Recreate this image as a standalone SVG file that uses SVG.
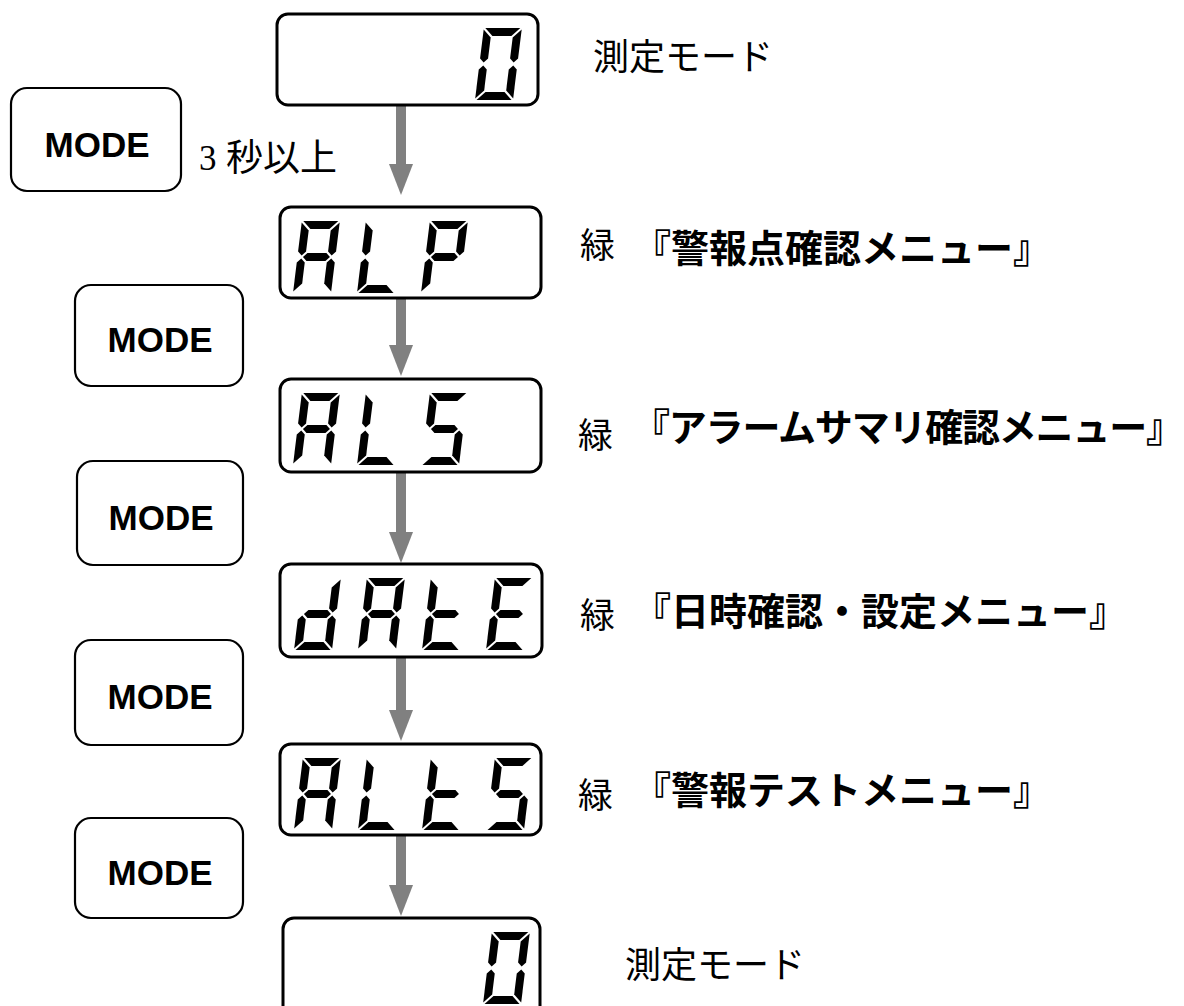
<svg xmlns="http://www.w3.org/2000/svg" xmlns:xlink="http://www.w3.org/1999/xlink" width="1184" height="1006" viewBox="0 0 1184 1006">
<style>
.disp{fill:#fff;stroke:#000;stroke-width:3}
.btn{fill:#fff;stroke:#000;stroke-width:2.2}
.btxt{font-family:"Liberation Sans",Arial,sans-serif;font-weight:bold;font-size:35px;fill:#000;text-anchor:middle}
.lbl{font-family:"Noto Sans CJK JP",sans-serif;font-size:36px;fill:#000}
.grn{font-family:"Noto Sans CJK JP",sans-serif;font-size:35px;fill:#000}
.menu{font-family:"Noto Sans CJK JP",sans-serif;font-weight:bold;font-size:38px;fill:#000}
.shaft{stroke:#808080;stroke-width:10;fill:none}
.head{fill:#808080}
.seg{fill:#000}
</style>
<defs>
<polygon id="sa" class="seg" points="1.5,0 36.5,0 28.5,8 9.5,8"/>
<polygon id="sb" class="seg" points="38,1.5 38,30.5 34,34.5 30,30.5 30,9.5"/>
<polygon id="sc" class="seg" points="30,41.5 34,37.5 38,41.5 38,70.5 30,62.5"/>
<polygon id="sd" class="seg" points="9.5,64 28.5,64 36.5,72 1.5,72"/>
<polygon id="se" class="seg" points="0,41.5 4,37.5 8,41.5 8,62.5 0,70.5"/>
<polygon id="sf" class="seg" points="0,1.5 8,9.5 8,30.5 4,34.5 0,30.5"/>
<polygon id="sg" class="seg" points="5.5,36 9.5,32 28.5,32 32.5,36 28.5,40 9.5,40"/>
<g id="ch0"><use href="#sa"/><use href="#sb"/><use href="#sc"/><use href="#sd"/><use href="#se"/><use href="#sf"/></g>
<g id="chA"><use href="#sa"/><use href="#sb"/><use href="#sc"/><use href="#se"/><use href="#sf"/><use href="#sg"/></g>
<g id="chL"><use href="#sd"/><use href="#se"/><use href="#sf"/></g>
<g id="chP"><use href="#sa"/><use href="#sb"/><use href="#se"/><use href="#sf"/><use href="#sg"/></g>
<g id="chS"><use href="#sa"/><use href="#sf"/><use href="#sg"/><use href="#sc"/><use href="#sd"/></g>
<g id="chd"><use href="#sb"/><use href="#sc"/><use href="#sd"/><use href="#se"/><use href="#sg"/></g>
<g id="cht"><use href="#sd"/><use href="#se"/><use href="#sf"/><use href="#sg"/></g>
<g id="chE"><use href="#sa"/><use href="#sd"/><use href="#se"/><use href="#sf"/><use href="#sg"/></g>
</defs>
<rect width="1184" height="1006" fill="#fff"/>

<g id="connectors">
<line class="shaft" x1="401" y1="105" x2="401" y2="166"/><polygon class="head" points="389,164 413,164 401,195"/>
<line class="shaft" x1="401" y1="298" x2="401" y2="347"/><polygon class="head" points="389,345 413,345 401,376"/>
<line class="shaft" x1="401" y1="472" x2="401" y2="534"/><polygon class="head" points="389,532 413,532 401,563"/>
<line class="shaft" x1="401" y1="657" x2="401" y2="712"/><polygon class="head" points="389,710 413,710 401,741"/>
<line class="shaft" x1="401" y1="835" x2="401" y2="887"/><polygon class="head" points="389,885 413,885 401,916"/>
</g>

<g id="disp-measure-top">
<rect class="disp" x="277" y="14" width="261" height="91" rx="11"/>
<use href="#ch0" transform="translate(475,100) skewX(-7) translate(0,-72)"/>
</g>
<g id="disp-alp">
<rect class="disp" x="280" y="207" width="261" height="91" rx="11"/>
<use href="#chA" transform="translate(293,293) skewX(-7) translate(0,-72)"/>
<use href="#chL" transform="translate(357,293) skewX(-7) translate(0,-72)"/>
<use href="#chP" transform="translate(421,293) skewX(-7) translate(0,-72)"/>
</g>
<g id="disp-als">
<rect class="disp" x="280" y="379" width="261" height="93" rx="11"/>
<use href="#chA" transform="translate(293,465) skewX(-7) translate(0,-72)"/>
<use href="#chL" transform="translate(357,465) skewX(-7) translate(0,-72)"/>
<use href="#chS" transform="translate(421,465) skewX(-7) translate(0,-72)"/>
</g>
<g id="disp-date">
<rect class="disp" x="280" y="564" width="262" height="93" rx="11"/>
<use href="#chd" transform="translate(294,650) skewX(-7) translate(0,-72)"/>
<use href="#chA" transform="translate(358,650) skewX(-7) translate(0,-72)"/>
<use href="#cht" transform="translate(422,650) skewX(-7) translate(0,-72)"/>
<use href="#chE" transform="translate(486,650) skewX(-7) translate(0,-72)"/>
</g>
<g id="disp-alts">
<rect class="disp" x="280" y="744" width="261" height="91" rx="11"/>
<use href="#chA" transform="translate(294,830) skewX(-7) translate(0,-72)"/>
<use href="#chL" transform="translate(358,830) skewX(-7) translate(0,-72)"/>
<use href="#cht" transform="translate(422,830) skewX(-7) translate(0,-72)"/>
<use href="#chS" transform="translate(486,830) skewX(-7) translate(0,-72)"/>
</g>
<g id="disp-measure-bottom">
<rect class="disp" x="283" y="918" width="257" height="110" rx="11"/>
<use href="#ch0" transform="translate(483,1004) skewX(-7) translate(0,-72)"/>
</g>

<g id="btn1"><rect class="btn" x="11" y="88" width="170" height="103" rx="16"/><text class="btxt" x="97" y="157">MODE</text></g>
<g id="btn2"><rect class="btn" x="75" y="285" width="168" height="101" rx="16"/><text class="btxt" x="160" y="352">MODE</text></g>
<g id="btn3"><rect class="btn" x="77" y="461" width="166" height="104" rx="16"/><text class="btxt" x="161" y="530">MODE</text></g>
<g id="btn4"><rect class="btn" x="75" y="640" width="168" height="105" rx="16"/><text class="btxt" x="160" y="709">MODE</text></g>
<g id="btn5"><rect class="btn" x="75" y="818" width="168" height="100" rx="16"/><text class="btxt" x="160" y="885">MODE</text></g>

<g id="labels">
<text class="lbl" x="593" y="70">測定モード</text>
<text x="199" y="170" font-family="Liberation Serif,serif" font-size="35">3</text>
<text class="lbl" x="226" y="171" style="font-size:37px">秒以上</text>
<text class="grn" x="580" y="258">緑</text>
<text class="menu" x="633" y="262">『警報点確認メニュー』</text>
<text class="grn" x="578" y="448">緑</text>
<text class="menu" x="632" y="441" textLength="552" lengthAdjust="spacing">『アラームサマリ確認メニュー』</text>
<text class="grn" x="580" y="628">緑</text>
<text class="menu" x="633" y="625">『日時確認・設定メニュー』</text>
<text class="grn" x="578" y="808">緑</text>
<text class="menu" x="633" y="804">『警報テストメニュー』</text>
<text class="lbl" x="625" y="978">測定モード</text>
</g>
</svg>
